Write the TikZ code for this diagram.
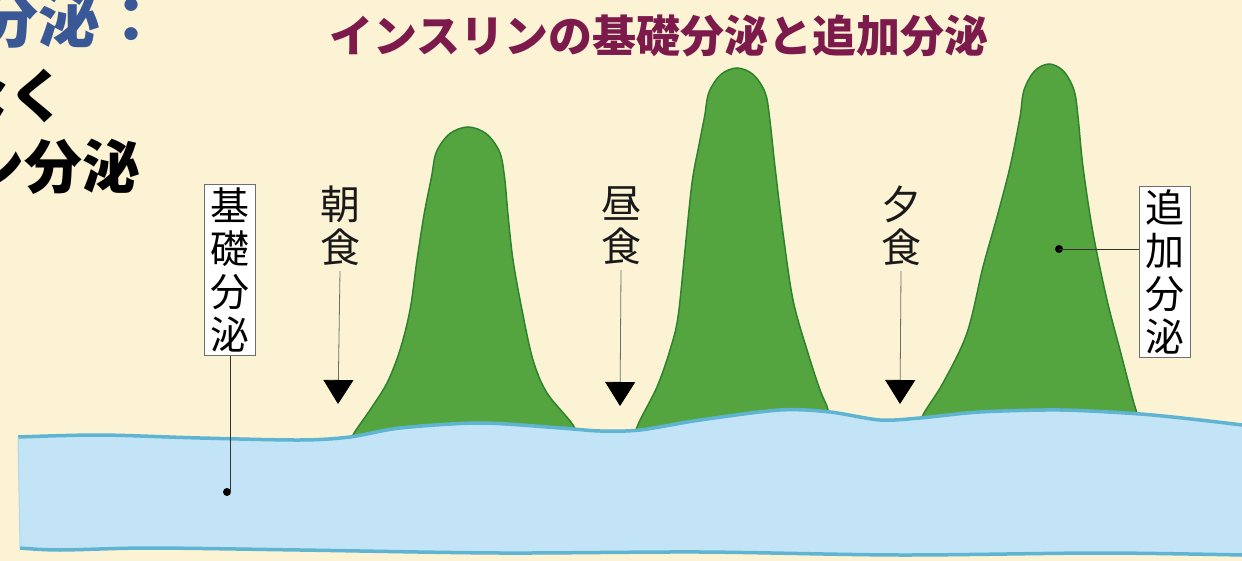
\documentclass[tikz,border=0pt]{standalone}
\usepackage{fontspec}
\newfontfamily\cjk{Noto Sans CJK JP}
\usetikzlibrary{arrows.meta}
\definecolor{bg}{RGB}{251,243,211}
\definecolor{titlecol}{RGB}{125,26,76}
\definecolor{bluetext}{RGB}{58,87,150}
\definecolor{peakfill}{RGB}{84,165,64}
\definecolor{peakedge}{RGB}{45,130,45}
\definecolor{bandfill}{RGB}{195,228,246}
\definecolor{bandedge}{RGB}{95,180,210}
\definecolor{leadgray}{RGB}{110,110,110}
\tikzset{
  meal/.style={font=\cjk\fontsize{40}{43}\selectfont, align=center, inner sep=1pt, text=black!90},
  vbox/.style={font=\cjk\fontsize{39}{43}\selectfont, align=center, draw=leadgray, line width=0.8pt, fill=white, inner xsep=6pt, inner ysep=3pt},
  mealarrow/.style={draw=leadgray, line width=0.8pt, -{Triangle[width=30pt,length=24pt,fill=black,color=black]}},
  leader/.style={draw=black!80, line width=0.8pt},
  dotmark/.style={circle, fill=black, inner sep=0pt, minimum size=8pt},
  peak/.style={fill=peakfill, draw=peakedge, line width=1.5pt},
}
\begin{document}
\begin{tikzpicture}[x=1pt,y=-1pt]
\useasboundingbox (0,0) rectangle (1242,561);
\fill[bg] (0,0) rectangle (1242,561);

% cut-off text at left
\node[anchor=base west, inner sep=0pt, font=\cjk\bfseries\fontsize{62}{62}\selectfont, text=bluetext] (t1) at (-24,43) {分泌：};
\node[anchor=base west, inner sep=0pt, font=\cjk\bfseries\fontsize{58}{58}\selectfont, text=black] (t2) at (-50,118) {なく};
\node[anchor=base west, inner sep=0pt, font=\cjk\bfseries\fontsize{58}{58}\selectfont, text=black] (t3) at (-34,189) {ン分泌};

% title
\node[font=\cjk\bfseries\fontsize{44}{44}\selectfont, text=titlecol, inner sep=0pt] (title) at (659,36) {インスリンの基礎分泌と追加分泌};

% peaks
\path[peak] plot[smooth, tension=0.55] coordinates {(349,450) (353,435) (370,410) (387,383) (400,350) (410,310) (417,260) (424,215) (431.5,177) (436.4,152) (449.75,133.7) (468,127) (486.25,133.7) (499.6,152) (504.5,177) (508,215) (513,260) (522,310) (533,360) (547,393) (573,425) (580,445)} -- cycle;
\path[peak] plot[smooth, tension=0.55] coordinates {(633,450) (637,427) (657,387) (670,350) (678,317) (685,250) (692,183) (699,145) (704.5,117) (708.9,92.5) (720.75,74.6) (737,68) (753.25,74.6) (765.1,92.5) (769.5,117) (775,167) (783,233) (793,300) (807,350) (820,390) (828,410) (832,440)} -- cycle;
\path[peak] plot[smooth, tension=0.55] coordinates {(918,440) (922,417) (943,383) (967,333) (983,267) (997,217) (1010,167) (1020,117) (1023.9,90.5) (1034.5,71.1) (1049,64) (1063.5,71.1) (1074.1,90.5) (1078,117) (1083,167) (1093,233) (1107,300) (1120,350) (1133,400) (1138,417) (1142,440)} -- cycle;

% basal band
\fill[bandfill] plot[smooth, tension=0.5] coordinates {(18,437) (100,435) (200,438) (300,440) (350,437) (400,428) (480,423) (560,428) (600,431) (640,430) (700,420) (780,410) (830,412) (880,420) (920,418) (980,412) (1060,410) (1140,414) (1200,420) (1242,425)}
  -- (1242,555) -- plot[smooth, tension=0.5] coordinates {(1242,555) (1100,553) (900,555) (700,552) (500,553) (300,550) (150,548) (60,550) (20,548)} -- cycle;
\draw[bandedge, line width=3.5pt] plot[smooth, tension=0.5] coordinates {(18,437) (100,435) (200,438) (300,440) (350,437) (400,428) (480,423) (560,428) (600,431) (640,430) (700,420) (780,410) (830,412) (880,420) (920,418) (980,412) (1060,410) (1140,414) (1200,420) (1242,425)};
\draw[bandedge, line width=3.5pt] plot[smooth, tension=0.5] coordinates {(1242,555) (1100,553) (900,555) (700,552) (500,553) (300,550) (150,548) (60,550) (20,548)};
\draw[bandedge!50, line width=1pt] (18,437) -- (20,548);

% meal labels and arrows
\node[meal] (asa) at (340,226) {朝\\食};
\node[meal] (hiru) at (621,226) {昼\\食};
\node[meal] (yu) at (901,226) {夕\\食};
\coordinate (asatip) at (338,404);
\coordinate (hirutip) at (620,406);
\coordinate (yutip) at (900,404);
\draw[mealarrow] (asa.south) ++(0,4) coordinate (asas) (asas) -- (asatip);
\draw[mealarrow] (hiru.south) ++(0,4) coordinate (hirus) (hirus) -- (hirutip);
\draw[mealarrow] (yu.south) ++(0,4) coordinate (yus) (yus) -- (yutip);

% basal label
\node[vbox] (kiso) at (230,270) {基\\礎\\分\\泌};
\node[dotmark] (kisodot) at (227,492) {};
\draw[leader] (kiso.south) -- (kiso.south |- kisodot.center) -- (kisodot);

% bolus label
\node[vbox] (tsuika) at (1165,272) {追\\加\\分\\泌};
\node[dotmark] (tsuikadot) at (1059,249) {};
\draw[leader] (tsuikadot.center) -- (tsuikadot.center -| tsuika.west);
\end{tikzpicture}
\end{document}
